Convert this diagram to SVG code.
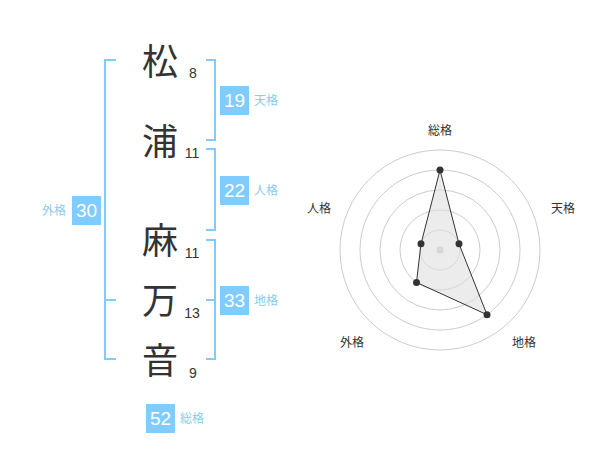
<svg xmlns="http://www.w3.org/2000/svg" width="600" height="470" viewBox="0 0 600 470">
<style>
.k{font-family:"Noto Sans CJK JP","Noto Sans CJK SC",sans-serif;font-size:36px;fill:#333;text-anchor:middle}
.n{font-family:"Liberation Sans",Arial,sans-serif;font-size:14px;fill:#333;text-anchor:middle}
.br{fill:none;stroke:#80ccff;stroke-width:2}
.box{fill:#80ccff}
.bn{font-family:"Liberation Sans",Arial,sans-serif;font-size:19px;fill:#fff;text-anchor:middle}
.bl{font-family:"Noto Sans CJK JP","Noto Sans CJK SC",sans-serif;font-size:12px;fill:#88ccee}
.ring{fill:none;stroke:#ccc;stroke-width:1}
.ax{font-family:"Noto Sans CJK JP","Noto Sans CJK SC",sans-serif;font-size:12px;fill:#333;text-anchor:middle}
.dot{fill:#333}
</style>
<g id="connectors">
<path class="br" d="M116,60 H105 V359 H116 M105,300 H116"/>
<path class="br" d="M206,60 H215 V140 H206"/>
<path class="br" d="M206,149 H215 V230 H206"/>
<path class="br" d="M206,240 H215 V359 H206 M206,300 H215"/>
</g>
<g id="char-matsu"><text class="k" x="160" y="75">松</text><text class="n" x="193" y="78">8</text></g>
<g id="char-ura"><text class="k" x="160" y="155">浦</text><text class="n" x="192" y="158">11</text></g>
<g id="char-ma"><text class="k" x="160" y="254">麻</text><text class="n" x="192" y="258">11</text></g>
<g id="char-man"><text class="k" x="160" y="314">万</text><text class="n" x="192" y="318">13</text></g>
<g id="char-ne"><text class="k" x="160" y="374">音</text><text class="n" x="193" y="378">9</text></g>
<g id="tenkaku"><rect class="box" x="220" y="86" width="29" height="29"/><text class="bn" x="234.5" y="107">19</text><text class="bl" x="254" y="105">天格</text></g>
<g id="jinkaku"><rect class="box" x="220" y="176" width="29" height="29"/><text class="bn" x="234.5" y="197">22</text><text class="bl" x="254" y="195">人格</text></g>
<g id="gaikaku"><rect class="box" x="72" y="196" width="29" height="29"/><text class="bn" x="86.5" y="217">30</text><text class="bl" x="42" y="215">外格</text></g>
<g id="chikaku"><rect class="box" x="220" y="286" width="29" height="29"/><text class="bn" x="234.5" y="307">33</text><text class="bl" x="254" y="305">地格</text></g>
<g id="soukaku"><rect class="box" x="146" y="404" width="29" height="29"/><text class="bn" x="160.5" y="425">52</text><text class="bl" x="180" y="423">総格</text></g>
<g id="radar">
<circle class="ring" cx="440" cy="250" r="20"/>
<circle class="ring" cx="440" cy="250" r="40"/>
<circle class="ring" cx="440" cy="250" r="60"/>
<circle class="ring" cx="440" cy="250" r="80"/>
<circle class="ring" cx="440" cy="250" r="100"/>
<circle cx="440" cy="250" r="3.5" fill="#ccc"/>
<polygon points="440,170 459,243.8 487,314.7 416.5,282.4 421,243.8" fill="#e0e0e0" fill-opacity="0.6" stroke="#333" stroke-width="1"/>
<circle class="dot" cx="440" cy="170" r="3.5"/>
<circle class="dot" cx="459" cy="243.8" r="3.5"/>
<circle class="dot" cx="487" cy="314.7" r="3.5"/>
<circle class="dot" cx="416.5" cy="282.4" r="3.5"/>
<circle class="dot" cx="421" cy="243.8" r="3.5"/>
<text class="ax" x="440" y="135">総格</text>
<text class="ax" x="563" y="213">天格</text>
<text class="ax" x="319" y="213">人格</text>
<text class="ax" x="352" y="347">外格</text>
<text class="ax" x="524" y="347">地格</text>
</g>
</svg>
